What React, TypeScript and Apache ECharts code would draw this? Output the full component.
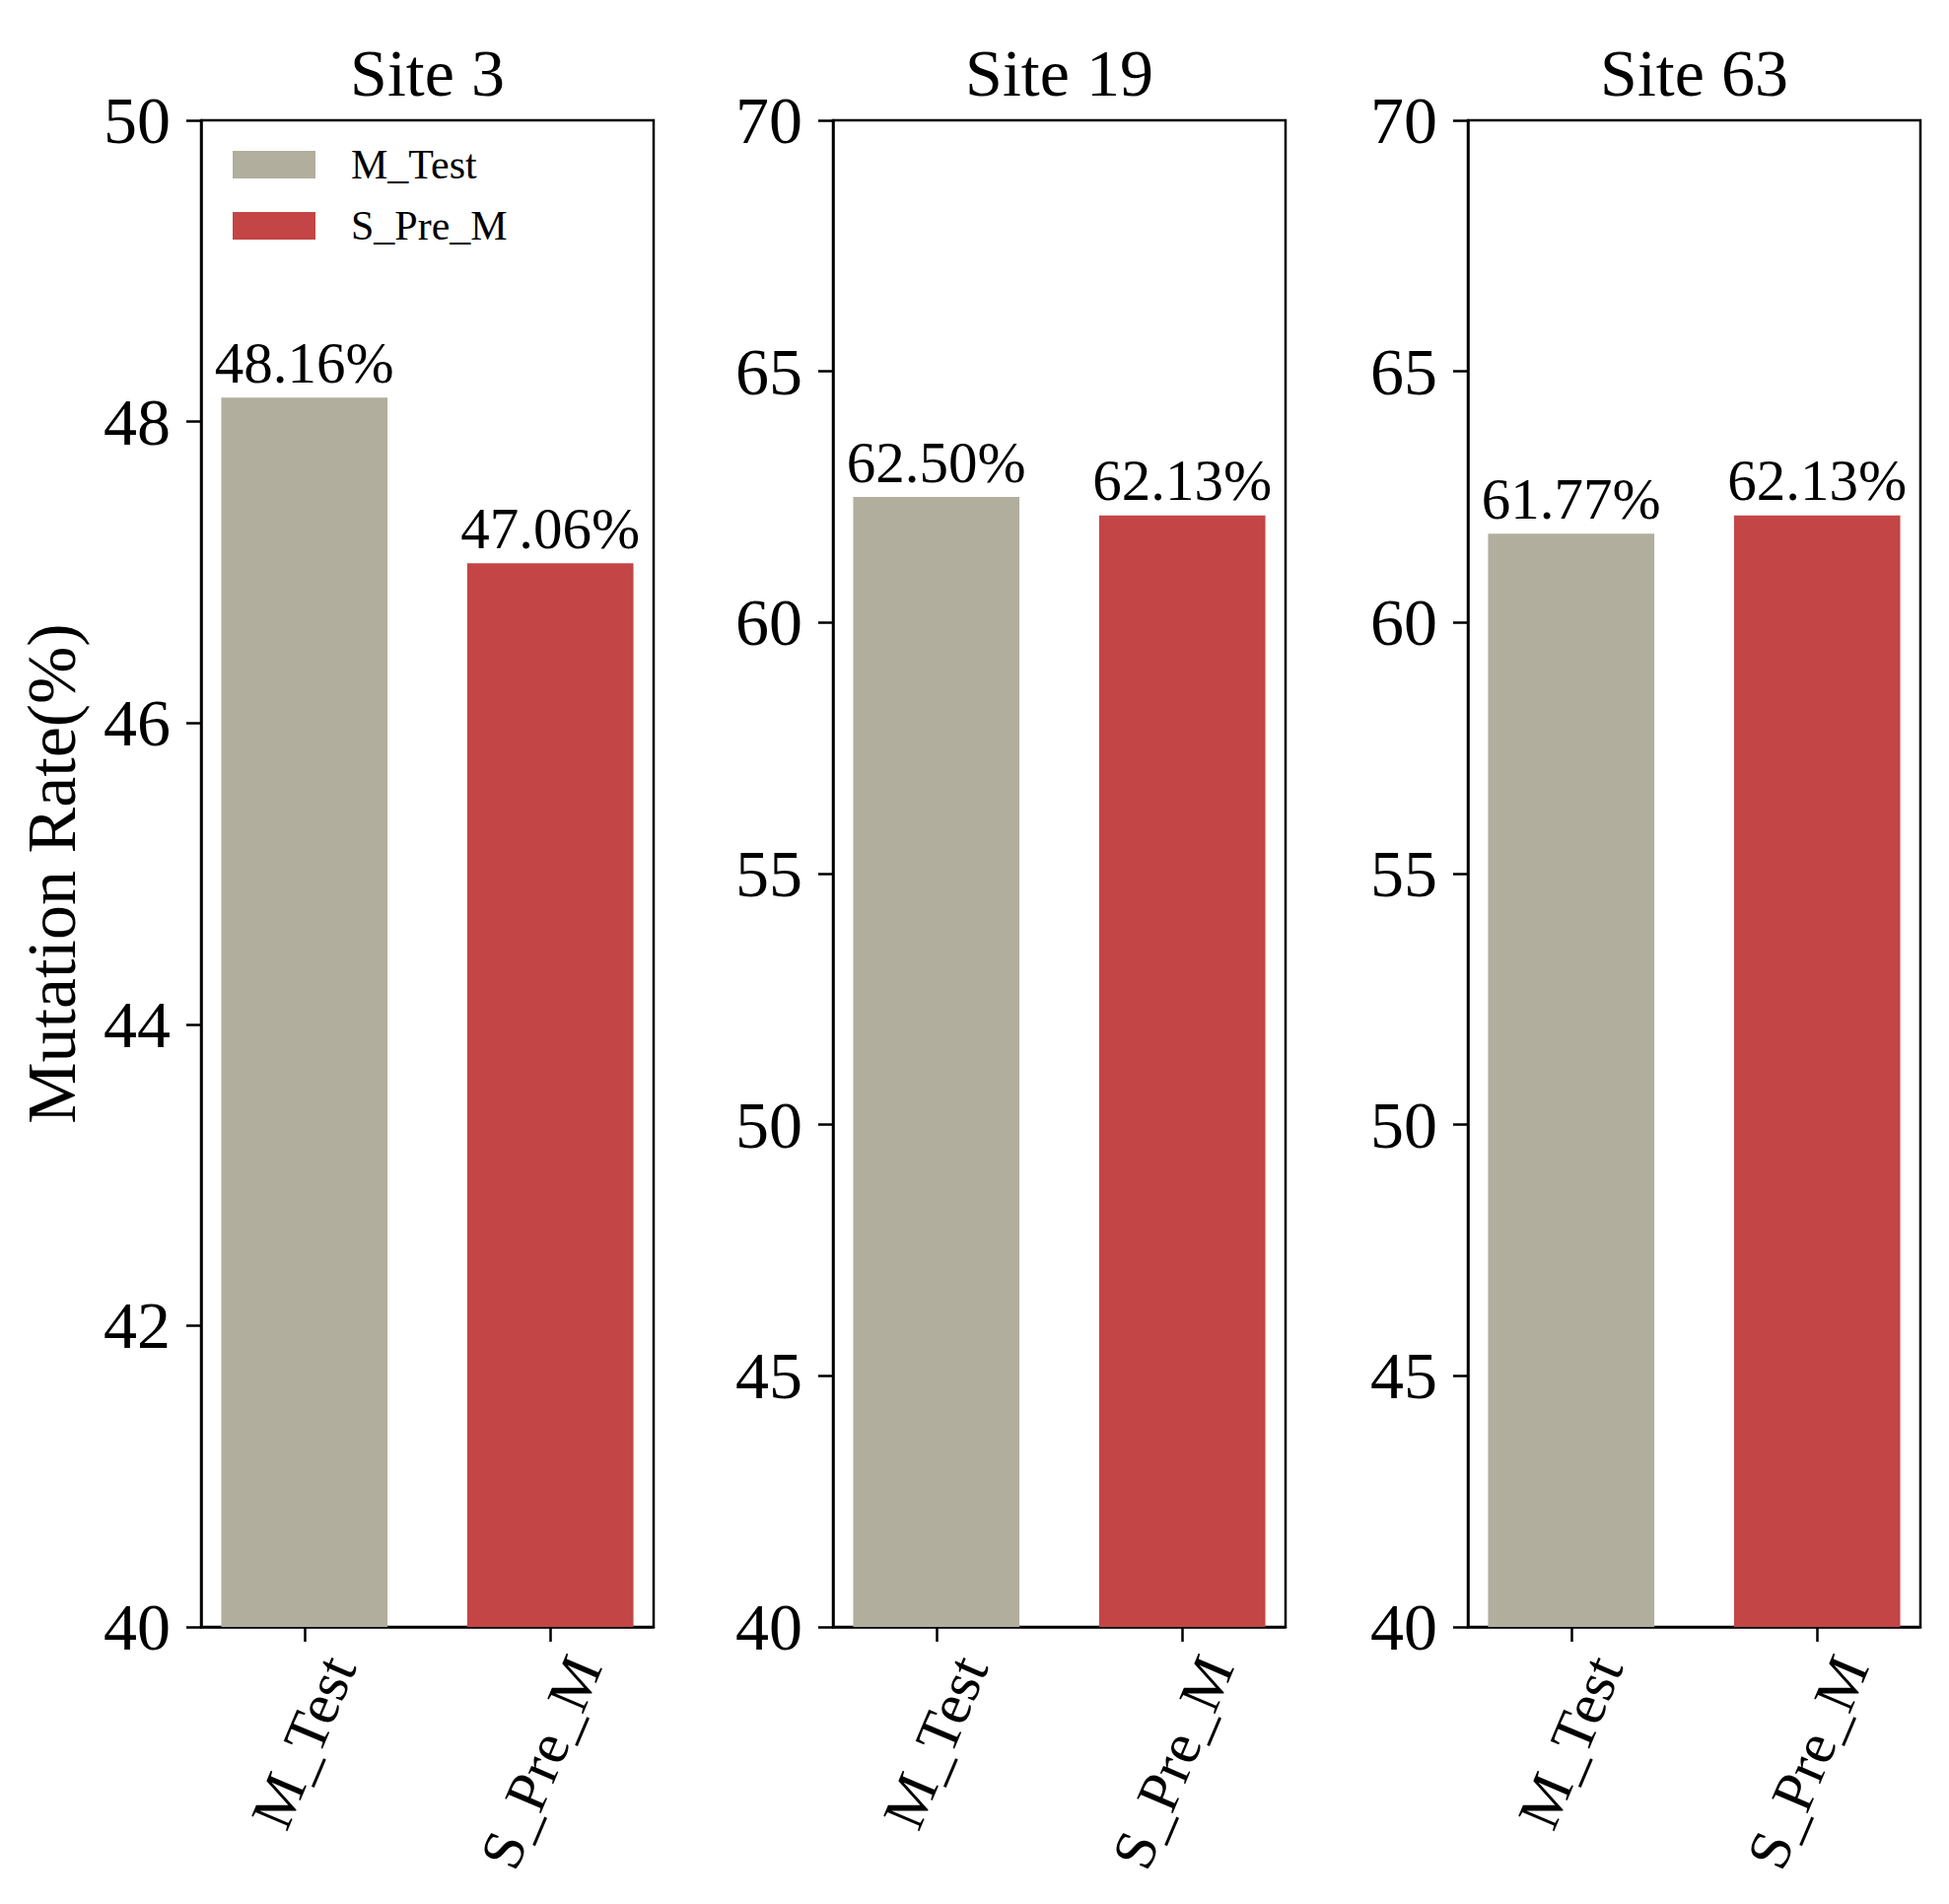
import React, { useEffect, useRef } from "react";
import * as echarts from "echarts";

const categories = ["M_Test", "S_Pre_M"];
const sites = ["Site 3", "Site 19", "Site 63"];
const mTestValues = [48.16, 62.5, 61.77];
const sPreMValues = [47.06, 62.13, 62.13];
const yMins = [40, 40, 40];
const yMaxs = [50, 70, 70];
const yIntervals = [2, 5, 5];
const yAxisTitle = "Mutation Rate(%)";

const COLORS = ["#b1ae9e", "#c44545"];
const FONT = "'Liberation Serif', 'Times New Roman', serif";

export default function App() {
  const ref = useRef<HTMLDivElement>(null);

  useEffect(() => {
    document.body.style.margin = "0";
    if (!ref.current) return;
    const chart = echarts.init(ref.current, null, { renderer: "svg" });

    const panelLeft = [204, 845, 1489];
    const panelWidth = 459;
    const top = 122;
    const height = 1528;
    const xMin = -0.42;
    const xMax = 1.42;
    const barWidth = (0.676 * panelWidth) / (xMax - xMin);

    const grids: any[] = [];
    const xAxes: any[] = [];
    const yAxes: any[] = [];
    const series: any[] = [];
    const titles: any[] = [];

    sites.forEach((site, i) => {
      grids.push({
        left: panelLeft[i],
        top,
        width: panelWidth,
        height,
        show: true,
        borderColor: "#000",
        borderWidth: 2.5,
        backgroundColor: "transparent",
      });
      titles.push({
        text: site,
        left: panelLeft[i] + panelWidth / 2,
        textAlign: "center",
        top: 40,
        padding: 0,
        textStyle: {
          fontFamily: FONT,
          fontSize: 68,
          fontWeight: "normal",
          color: "#000",
          lineHeight: 68,
        },
      });
      xAxes.push({
        gridIndex: i,
        type: "value",
        min: xMin,
        max: xMax,
        splitLine: { show: false },
        axisLine: { show: true, onZero: false, lineStyle: { color: "#000", width: 2.5 } },
        axisTick: {
          show: true,
          customValues: [0, 1],
          length: 15,
          lineStyle: { color: "#000", width: 2.5 },
        },
        axisLabel: {
          customValues: [0, 1],
          formatter: (v: number) => categories[Math.round(v)] ?? "",
          rotate: 67,
          fontFamily: FONT,
          fontSize: 60,
          color: "#000",
          verticalAlign: "top",
          lineHeight: 60,
          padding: [8, 0, 0, 0],
          margin: 18,
        },
      });
      yAxes.push({
        gridIndex: i,
        type: "value",
        min: yMins[i],
        max: yMaxs[i],
        interval: yIntervals[i],
        splitLine: { show: false },
        axisLine: { show: true, onZero: false, lineStyle: { color: "#000", width: 2.5 } },
        axisTick: {
          show: true,
          length: 15,
          lineStyle: { color: "#000", width: 2.5 },
        },
        axisLabel: {
          fontFamily: FONT,
          fontSize: 68,
          color: "#000",
          margin: 31,
        },
        name: i === 0 ? yAxisTitle : "",
        nameLocation: "middle",
        nameRotate: 90,
        nameGap: 117,
        nameTextStyle: {
          fontFamily: FONT,
          fontSize: 70,
          color: "#000",
        },
      });
      const vals = [mTestValues[i], sPreMValues[i]];
      categories.forEach((cat, j) => {
        series.push({
          type: "bar",
          name: cat,
          xAxisIndex: i,
          yAxisIndex: i,
          barWidth,
          barGap: "-100%",
          data: [[j, vals[j]]],
          itemStyle: { color: COLORS[j] },
          label: {
            show: true,
            position: "top",
            distance: 6,
            fontFamily: FONT,
            fontSize: 59,
            color: "#000",
            formatter: (p: any) => `${p.value[1].toFixed(2)}%`,
          },
        });
      });
    });

    chart.setOption({
      animation: false,
      backgroundColor: "#fff",
      title: titles,
      grid: grids,
      xAxis: xAxes,
      yAxis: yAxes,
      series,
      legend: {
        data: categories,
        orient: "vertical",
        left: 231,
        top: 141,
        itemWidth: 84,
        itemHeight: 28,
        itemGap: 20,
        icon: "rect",
        selectedMode: false,
        textStyle: {
          fontFamily: FONT,
          fontSize: 42,
          color: "#000",
          lineHeight: 28,
          padding: [0, 0, 0, 31],
        },
      },
    });

    return () => chart.dispose();
  }, []);

  return <div ref={ref} style={{ width: 1977, height: 1931 }} />;
}
